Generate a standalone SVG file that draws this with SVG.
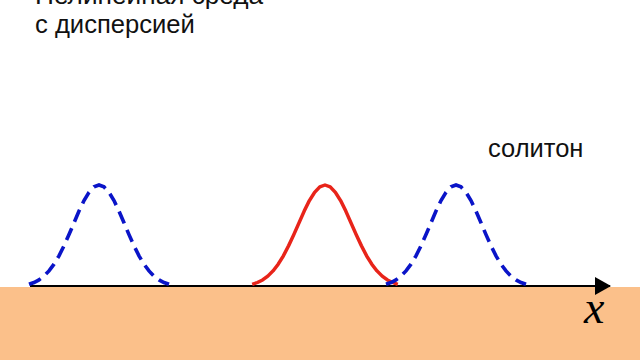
<svg xmlns="http://www.w3.org/2000/svg" width="640" height="360" viewBox="0 0 640 360">
  <style>
    .lbl { font-family: "Liberation Sans", Arial, sans-serif; font-size: 25.6px; fill: #111; }
    .blue { fill: none; stroke: #0a14c8; stroke-width: 3.6; stroke-dasharray: 13 7; stroke-linecap: butt; }
    .red { fill: none; stroke: #e8241a; stroke-width: 3.4; stroke-linejoin: round; }
  </style>
  <defs>
    <path id="bell" d="M-70,-1.7 L-65,-3.5 L-60,-6.1 L-55,-9.9 L-50,-15.1 L-45,-21.8 L-40,-30.2 L-35,-40.2 L-30,-51.4 L-25,-63.2 L-20,-74.9 L-15,-85.4 L-10,-93.7 L-5,-99.1 L0,-101 L5,-99.1 L10,-93.7 L15,-85.4 L20,-74.9 L25,-63.2 L30,-51.4 L35,-40.2 L40,-30.2 L45,-21.8 L50,-15.1 L55,-9.9 L60,-6.1 L65,-3.5 L70,-1.7"/>
    <marker id="arrow" markerWidth="16" markerHeight="18" refX="15" refY="9" orient="auto" markerUnits="userSpaceOnUse">
      <path d="M0,0 L16,9 L0,18 Z" fill="#000"/>
    </marker>
  </defs>
  <rect x="0" y="0" width="640" height="360" fill="#fff"/>
  <rect id="medium" x="0" y="287" width="640" height="73" fill="#fbc08a"/>
  <text class="lbl" x="35" y="4" style="font-size:26.2px">Нелинейная среда</text>
  <text class="lbl" x="35" y="33">с дисперсией</text>
  <text class="lbl" x="488" y="157" style="font-size:25.5px">солитон</text>
  <g id="connectors">
    <line id="axis" x1="30" y1="286" x2="610" y2="286" stroke="#000" stroke-width="2" marker-end="url(#arrow)"/>
  </g>
  <g id="pulse-left">
    <use href="#bell" class="blue" transform="translate(99,286)"/>
  </g>
  <g id="soliton">
    <use href="#bell" class="red" transform="translate(325,286) scale(1.04,1)"/>
  </g>
  <g id="pulse-right">
    <use href="#bell" class="blue" transform="translate(456,286)"/>
  </g>
  <text x="584" y="323" style="font-family:'Liberation Serif','Times New Roman',serif;font-style:italic;font-size:46px;fill:#000">x</text>
</svg>
